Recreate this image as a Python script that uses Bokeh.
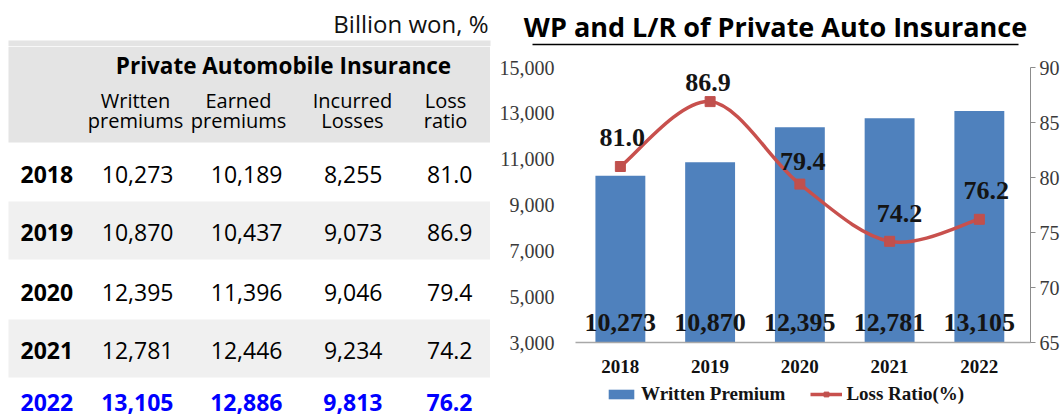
from bokeh.plotting import figure
from bokeh.models import Range1d, LinearAxis, FixedTicker, NumeralTickFormatter, Legend, LegendItem
from bokeh.layouts import row, column
from bokeh.core.properties import value
from bokeh.embed import file_html
from bokeh.resources import INLINE

# ---------------- data ----------------
YEARS = ["2018", "2019", "2020", "2021", "2022"]
WRITTEN = [10273, 10870, 12395, 12781, 13105]
EARNED = [10189, 10437, 11396, 12446, 12886]
INCURRED = [8255, 9073, 9046, 9234, 9813]
LOSS_RATIO = [81.0, 86.9, 79.4, 74.2, 76.2]

UNIT_TEXT = "Billion won, %"
TABLE_TITLE = "Private Automobile Insurance"
HEAD_LINE1 = ["Written", "Earned", "Incurred", "Loss"]
HEAD_LINE2 = ["premiums", "premiums", "Losses", "ratio"]
CHART_TITLE = "WP and L/R of Private Auto Insurance"
LEGEND_LABELS = ["Written Premium", "Loss Ratio(%)"]
LEFT_TICKS = [3000, 5000, 7000, 9000, 11000, 13000, 15000]
RIGHT_TICKS = [65, 70, 75, 80, 85, 90]

# ---------------- styles / layout ----------------
TABLE_FONT = value("Open Sans")
SERIF_NAME = "Liberation Serif"
SERIF = value(SERIF_NAME)
BAR_COLOR = "#4F81BD"
LINE_COLOR = "#C8504D"
MARK_COLOR = "#C0504D"
BLUE = "#0000FF"
HEAD_GRAY = "#E4E4E4"

TOP_H = 46                                       # height of the strip holding the titles
ROW_MID = [173.5, 231.5, 291.5, 349.5, 402]      # vertical centres of table rows (page px)
COL_RIGHT = [173, 282, 382, 472]                 # right edges of value columns
COL_CENTER = [135, 238, 352, 445]                # header centres
LR_DX = [2, -2, 3, 10, 7]                        # loss-ratio label offsets (px)
LR_DY = [-29, -19, -23, -28, -29]


def blank_fig(w, h, xr, yr, **kw):
    f = figure(width=w, height=h, x_range=Range1d(*xr), y_range=Range1d(*yr),
               x_axis_location=None, y_axis_location=None, toolbar_location=None, title=None,
               output_backend="svg", min_border=0, outline_line_color=None, **kw)
    f.grid.visible = False
    return f


n = len(YEARS)
xs = [i + 0.5 for i in range(n)]

# ---------------- top strip: unit note, chart title ----------------
top = blank_fig(1064, TOP_H, (0, 1030), (TOP_H, 0), min_border_right=34)
top.quad(left=[8], right=[490], top=[40], bottom=[TOP_H], color=HEAD_GRAY, line_color=None)
top.text(x=[488], y=[22.5], text=[UNIT_TEXT], text_align="right", text_baseline="middle",
         text_font=TABLE_FONT, text_font_size="24px", text_color="#111111")
top.text(x=[775], y=[26], text=[CHART_TITLE], text_align="center", text_baseline="middle",
         text_font=TABLE_FONT, text_font_style="bold", text_font_size="27px", text_color="#000000")
top.segment(x0=[532], y0=[44], x1=[1018], y1=[44], line_color="#000000", line_width=1.5)

# ---------------- table ----------------
t = blank_fig(490, 418 - TOP_H, (0, 490), (418, TOP_H))
t.quad(left=[8], right=[490], top=[TOP_H], bottom=[142], color=HEAD_GRAY, line_color=None)
band_rows = [1, 3]
t.quad(left=[8] * len(band_rows), right=[490] * len(band_rows),
       top=[ROW_MID[i] - 30.5 for i in band_rows], bottom=[ROW_MID[i] + 27.5 for i in band_rows],
       color="#F0F0F0", line_color=None)
t.text(x=[283], y=[65], text=[TABLE_TITLE], text_align="center", text_baseline="middle",
       text_font=TABLE_FONT, text_font_style="bold", text_font_size="22.5px", text_color="#000000")
t.text(x=COL_CENTER, y=[99.5] * 4, text=HEAD_LINE1, text_align="center", text_baseline="middle",
       text_font=TABLE_FONT, text_font_size="20px", text_color="#000000")
t.text(x=COL_CENTER, y=[119.5] * 4, text=HEAD_LINE2, text_align="center", text_baseline="middle",
       text_font=TABLE_FONT, text_font_size="20px", text_color="#000000")

cols = [[f"{v:,}" for v in WRITTEN], [f"{v:,}" for v in EARNED],
        [f"{v:,}" for v in INCURRED], [f"{v:.1f}" for v in LOSS_RATIO]]
t.text(x=[20] * (n - 1), y=ROW_MID[:n - 1], text=YEARS[:n - 1], text_align="left",
       text_baseline="middle", text_font=TABLE_FONT, text_font_style="bold",
       text_font_size="23px", text_color="#000000")
for ci, colvals in enumerate(cols):
    t.text(x=[COL_RIGHT[ci]] * (n - 1), y=ROW_MID[:n - 1], text=colvals[:n - 1],
           text_align="right", text_baseline="middle", text_font=TABLE_FONT,
           text_font_size="23px", text_color="#000000")
t.text(x=[20], y=[ROW_MID[n - 1]], text=[YEARS[n - 1]], text_align="left",
       text_baseline="middle", text_font=TABLE_FONT, text_font_style="bold",
       text_font_size="23px", text_color=BLUE)
t.text(x=COL_RIGHT, y=[ROW_MID[n - 1]] * 4, text=[c[n - 1] for c in cols],
       text_align="right", text_baseline="middle", text_font=TABLE_FONT,
       text_font_style="bold", text_font_size="23px", text_color=BLUE)

# ---------------- chart ----------------
LEG_H = 40
c = figure(width=574, height=418 - TOP_H - LEG_H, x_range=Range1d(0, 5.07),
           y_range=Range1d(LEFT_TICKS[0], LEFT_TICKS[-1]),
           toolbar_location=None, output_backend="svg", title=None,
           min_border_left=85, min_border_right=34, min_border_top=67 - TOP_H,
           min_border_bottom=36, outline_line_color=None)
c.grid.visible = False

c.xaxis.ticker = FixedTicker(ticks=xs)
c.xaxis.major_label_overrides = {x: y for x, y in zip(xs, YEARS)}
c.xaxis.major_tick_line_color = None
c.xaxis.minor_tick_line_color = None
c.xaxis.axis_line_color = "#A8A8A8"
c.xaxis.axis_line_width = 1.5
c.xaxis.major_label_standoff = 11
c.xaxis.major_label_text_font = SERIF_NAME
c.xaxis.major_label_text_font_style = "bold"
c.xaxis.major_label_text_font_size = "19px"
c.xaxis.major_label_text_color = "#111111"

c.yaxis.ticker = FixedTicker(ticks=LEFT_TICKS)
c.yaxis.formatter = NumeralTickFormatter(format="0,0")
c.yaxis.axis_line_color = None
c.yaxis.major_tick_line_color = None
c.yaxis.minor_tick_line_color = None
c.yaxis.major_label_standoff = 15
c.yaxis.major_label_text_font = SERIF_NAME
c.yaxis.major_label_text_font_size = "20px"
c.yaxis.major_label_text_color = "#3A3A3A"

c.extra_y_ranges = {"lr": Range1d(RIGHT_TICKS[0], RIGHT_TICKS[-1])}
ax_r = LinearAxis(y_range_name="lr", ticker=FixedTicker(ticks=RIGHT_TICKS),
                  axis_line_color="#8C8C8C", major_tick_line_color="#8C8C8C",
                  major_tick_in=0, major_tick_out=5, minor_tick_line_color=None,
                  major_label_standoff=4, major_label_text_font=SERIF_NAME,
                  major_label_text_font_size="20px", major_label_text_color="#3A3A3A")
c.add_layout(ax_r, "right")

c.vbar(x=xs, top=WRITTEN, bottom=LEFT_TICKS[0], width=0.556, color=BAR_COLOR, line_color=None)

# smoothed loss-ratio curve (Catmull-Rom -> cubic Bezier)
ext_x = [xs[0]] + xs + [xs[-1]]
ext_y = [LOSS_RATIO[0]] + LOSS_RATIO + [LOSS_RATIO[-1]]
bx0, by0, bx1, by1, cx0, cy0, cx1, cy1 = [], [], [], [], [], [], [], []
for i in range(n - 1):
    p0x, p1x, p2x, p3x = ext_x[i], ext_x[i + 1], ext_x[i + 2], ext_x[i + 3]
    p0y, p1y, p2y, p3y = ext_y[i], ext_y[i + 1], ext_y[i + 2], ext_y[i + 3]
    bx0.append(p1x); by0.append(p1y); bx1.append(p2x); by1.append(p2y)
    cx0.append(p1x + (p2x - p0x) / 6); cy0.append(p1y + (p2y - p0y) / 6)
    cx1.append(p2x - (p3x - p1x) / 6); cy1.append(p2y - (p3y - p1y) / 6)
c.bezier(x0=bx0, y0=by0, x1=bx1, y1=by1, cx0=cx0, cy0=cy0, cx1=cx1, cy1=cy1,
         y_range_name="lr", line_color=LINE_COLOR, line_width=3.5)
c.scatter(x=xs, y=LOSS_RATIO, marker="square", size=10, color=MARK_COLOR, y_range_name="lr")

c.text(x=xs, y=[LEFT_TICKS[0]] * n, text=[f"{v:,}" for v in WRITTEN], y_offset=-20,
       text_align="center", text_baseline="middle", text_font=SERIF, text_font_style="bold",
       text_font_size="26px", text_color="#141414")
c.text(x=xs, y=LOSS_RATIO, text=[f"{v:.1f}" for v in LOSS_RATIO], x_offset=LR_DX, y_offset=LR_DY,
       y_range_name="lr", text_align="center", text_baseline="middle", text_font=SERIF,
       text_font_style="bold", text_font_size="26px", text_color="#141414")

# ---------------- legend strip (same frame as the chart) ----------------
lf = figure(width=574, height=LEG_H, x_range=Range1d(0, 5.07), y_range=Range1d(65, 90),
            x_axis_location=None, y_axis_location=None, toolbar_location=None, title=None,
            output_backend="svg", min_border_left=85, min_border_right=34,
            min_border_top=0, min_border_bottom=0, outline_line_color=None)
lf.grid.visible = False
lg_bar = lf.vbar(x=xs, top=WRITTEN, width=0.556, color=BAR_COLOR, line_color=None, visible=False)
lg_line = lf.line(x=xs, y=LOSS_RATIO, line_color=LINE_COLOR, line_width=3.5, visible=False)
lg_mark = lf.scatter(x=xs, y=LOSS_RATIO, marker="square", size=10, color=MARK_COLOR, visible=False)
legend = Legend(items=[LegendItem(label=LEGEND_LABELS[0], renderers=[lg_bar]),
                       LegendItem(label=LEGEND_LABELS[1], renderers=[lg_line, lg_mark])],
                orientation="horizontal", location=(30, 13), border_line_color=None,
                background_fill_alpha=0, inactive_fill_alpha=0, padding=0, margin=0,
                spacing=25, label_standoff=4, glyph_width=32, glyph_height=12,
                label_text_font=SERIF_NAME, label_text_font_style="bold",
                label_text_font_size="19px", label_text_color="#141414")
lf.add_layout(legend)

layout = column(top, row(t, column(c, lf)))
open("out.html", "w").write(file_html(layout, INLINE))
